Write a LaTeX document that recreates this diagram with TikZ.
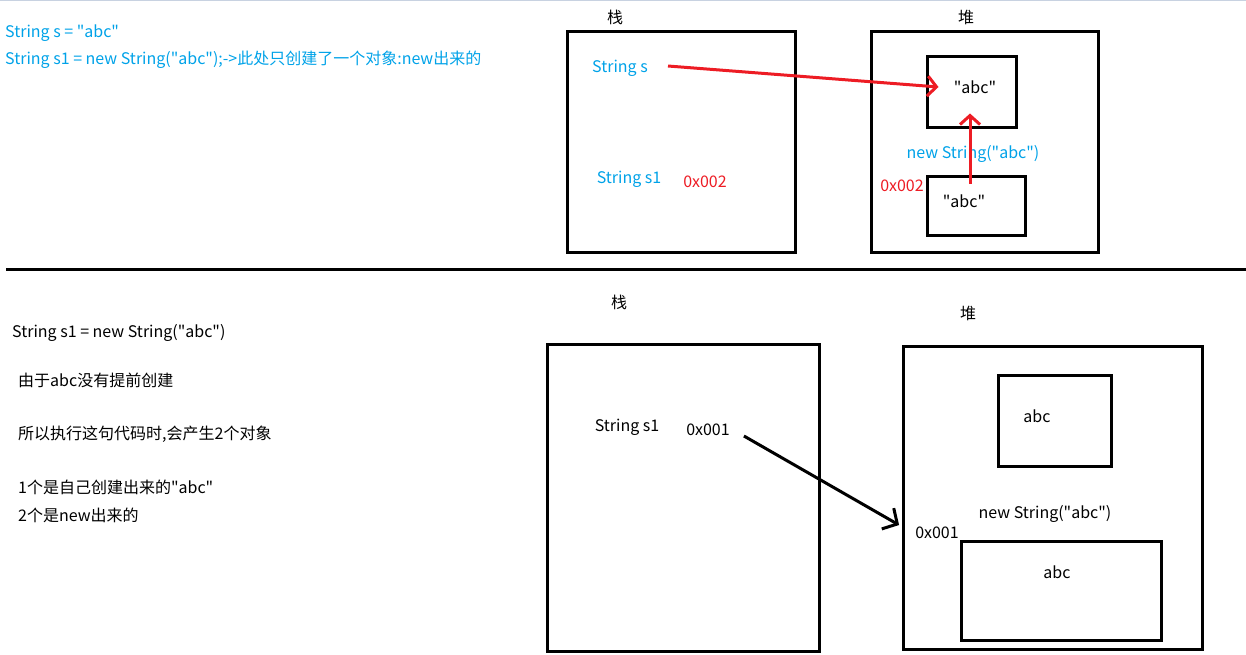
\documentclass[tikz,border=0pt]{standalone}
\usepackage{fontspec}
\setmainfont{Noto Sans CJK SC}[Ligatures=TeXOff]
\usetikzlibrary{arrows.meta}
\definecolor{paintblue}{RGB}{0,162,232}
\definecolor{paintred}{RGB}{237,28,36}
\definecolor{topline}{RGB}{200,210,225}

\begin{document}
\begin{tikzpicture}[x=1pt,y=-1pt,
    every node/.style={font=\fontsize{16}{19}\selectfont, inner sep=0pt},
    box/.style={draw, line width=3pt},
    code/.style={anchor=west, text=paintblue},
    note/.style={anchor=west},
    refarrow/.style={paintred, line width=3pt, -{Straight Barb[length=9pt,width=20pt]}},
    ptrarrow/.style={black, line width=3pt, -{Straight Barb[length=11pt,width=24pt]}}]
      \useasboundingbox (0,0) rectangle (1246,654);
      \draw[topline, line width=1pt] (0,0.5) -- (1246,0.5);
      % Upper part: code
      \node[code] (codeA) at (5,33) {String s = "abc"};
      \node[code] (codeB) at (5,60) {String s1 = new String("abc");->此处只创建了一个对象:new出来的};
      % Stack
      \node (stackTitleA) at (615,17) {栈};
      \node[box, minimum width=228, minimum height=221] (stackA) at (681,141.5) {};
      \node[text=paintblue] (varS) at (620,68) {String s};
      \node[text=paintblue] (varSA) at (629,179) {String s1};
      \node[text=paintred] (addrA) at (705,182) {0x002};
      % Heap
      \node (heapTitleA) at (966,17) {堆};
      \node[box, minimum width=227, minimum height=221] (heapA) at (984.5,141.5) {};
      \node[box, minimum width=89, minimum height=71] (objA) at (971.5,91.5) {};
      \node (valA) at (975,87) {"abc"};
      \node[text=paintblue] (newA) at (973,154) {new String("abc")};
      \node[text=paintred] (addrB) at (902,186) {0x002};
      \node[box, minimum width=98, minimum height=59] (objB) at (976,205.5) {};
      \node (valB) at (964,201) {"abc"};
      % References
      \draw[refarrow] ([xshift=20pt,yshift=2pt]varS.east) -- ([xshift=13pt,yshift=4.5pt]objA.west);
      \draw[refarrow] ([xshift=-6pt,yshift=-9pt]objB.north) -- ([xshift=-1.5pt,yshift=15pt]objA.south);
      % Separator
      \coordinate (sepL) at (6,269);
      \coordinate (sepR) at (1246,269);
      \draw[line width=3pt] (sepL) -- (sepR);
      % Lower part: notes
      \node[note] (codeC) at (12,333) {String s1 = new String("abc")};
      \node[note] (noteA) at (18,380) {由于abc没有提前创建};
      \node[note] (noteB) at (18,434) {所以执行这句代码时,会产生2个对象};
      \node[note] (noteC) at (18,487) {1个是自己创建出来的"abc"};
      \node[note] (noteD) at (18,515) {2个是new出来的};
      % Stack
      \node (stackTitleB) at (619,302) {栈};
      \node[box, minimum width=272, minimum height=307] (stackB) at (683,497.5) {};
      \node (varSB) at (627,427) {String s1};
      \node (addrC) at (708,430) {0x001};
      % Heap
      \node (heapTitleB) at (968,313) {堆};
      \node[box, minimum width=299, minimum height=303] (heapB) at (1052.5,497.5) {};
      \node[box, minimum width=113, minimum height=91] (objC) at (1054.5,420.5) {};
      \node (valC) at (1037,416) {abc};
      \node (newB) at (1045,514) {new String("abc")};
      \node (addrD) at (937,533) {0x001};
      \node[box, minimum width=200, minimum height=99] (objD) at (1061,590.5) {};
      \node (valD) at (1057,572) {abc};
      % Reference
      \draw[ptrarrow] ([xshift=14pt,yshift=-6pt]addrC.east) -- ([xshift=-16pt,yshift=8pt]addrD.west);
\end{tikzpicture}
\end{document}
